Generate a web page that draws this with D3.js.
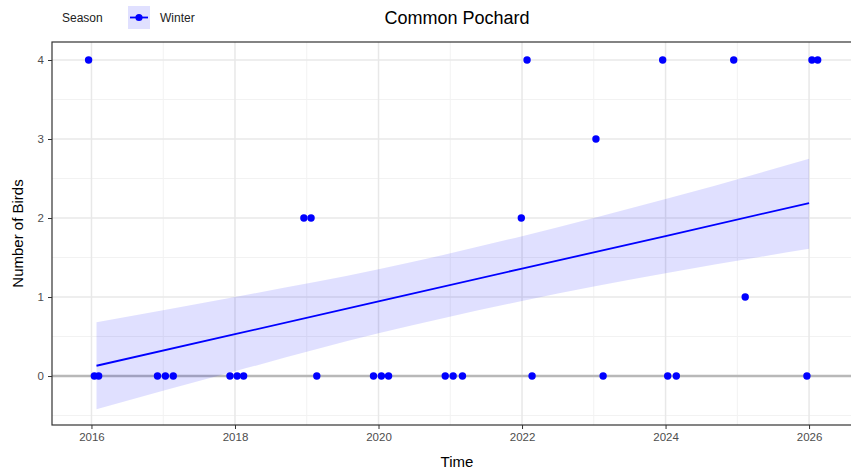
<!DOCTYPE html>
<html>
<head>
<meta charset="utf-8">
<script src="https://cdn.jsdelivr.net/npm/d3@7"></script>
<style>
  body { margin: 0; background: #fff; }
  svg { font-family: 'Liberation Sans', Arial, sans-serif; }
</style>
</head>
<body>
<div class="chart"></div>
<script>
// Parameters
const width = 851;
const height = 473;
const margin = { top: 42, right: -4, bottom: 48, left: 52 };

// observations (decimal year, count)
const years  = [2015.96, 2016.04, 2016.10, 2016.92, 2017.03, 2017.14, 2017.93, 2018.03, 2018.12,
                2018.96, 2019.06, 2019.14, 2019.93, 2020.04, 2020.14, 2020.93, 2021.04, 2021.17,
                2021.99, 2022.07, 2022.14, 2023.03, 2023.13, 2023.96, 2024.03, 2024.15, 2024.95,
                2025.11, 2025.97, 2026.04, 2026.12];
const counts = [4, 0, 0, 0, 0, 0, 0, 0, 0,
                2, 2, 0, 0, 0, 0, 0, 0, 0,
                2, 4, 0, 3, 0, 4, 0, 0, 4,
                1, 0, 4, 4];

// fitted trend and confidence band
const smoothX     = [2016.07, 2018, 2020, 2022, 2024, 2026.0];
const smoothFit   = [0.13, 0.53, 0.945, 1.36, 1.77, 2.19];
const smoothLower = [-0.42, 0.06, 0.54, 0.95, 1.30, 1.61];
const smoothUpper = [0.68, 1.00, 1.35, 1.77, 2.24, 2.75];

const xTicks = [2016, 2018, 2020, 2022, 2024, 2026];
const xMinor = [2017, 2019, 2021, 2023, 2025];
const yTicks = [0, 1, 2, 3, 4];
const yMinor = [-0.5, 0.5, 1.5, 2.5, 3.5];

const seriesName = 'Winter';

function drawGraph() {
    const svg = d3.select('.chart')
        .append('svg')
        .attr('width', width)
        .attr('height', height);

    const scaleX = d3.scaleLinear()
        .domain([2015.45, 2026.64])
        .range([margin.left, width - margin.right]);

    const scaleY = d3.scaleLinear()
        .domain([-0.62, 4.228])
        .range([height - margin.bottom, margin.top]);

    const x0 = margin.left, x1 = width - margin.right;
    const y0 = margin.top, y1 = height - margin.bottom;

    // grid
    const grid = svg.append('g');
    grid.selectAll('.ymin').data(yMinor).join('line')
        .attr('x1', x0).attr('x2', x1)
        .attr('y1', d => scaleY(d)).attr('y2', d => scaleY(d))
        .attr('stroke', '#f2f2f2').attr('stroke-width', 1);
    grid.selectAll('.xmin').data(xMinor).join('line')
        .attr('y1', y0).attr('y2', y1)
        .attr('x1', d => scaleX(d)).attr('x2', d => scaleX(d))
        .attr('stroke', '#f2f2f2').attr('stroke-width', 1);
    grid.selectAll('.ymaj').data(yTicks).join('line')
        .attr('x1', x0).attr('x2', x1)
        .attr('y1', d => scaleY(d)).attr('y2', d => scaleY(d))
        .attr('stroke', '#e8e8e8').attr('stroke-width', 1.5);
    grid.selectAll('.xmaj').data(xTicks).join('line')
        .attr('y1', y0).attr('y2', y1)
        .attr('x1', d => scaleX(d)).attr('x2', d => scaleX(d))
        .attr('stroke', '#e8e8e8').attr('stroke-width', 1.5);

    // zero line
    svg.append('line')
        .attr('x1', x0).attr('x2', x1)
        .attr('y1', scaleY(0)).attr('y2', scaleY(0))
        .attr('stroke', '#b8b8b8').attr('stroke-width', 2.6);

    // confidence band
    const band = smoothX.map((x, i) => ({ x, lo: smoothLower[i], hi: smoothUpper[i], fit: smoothFit[i] }));
    svg.append('path')
        .datum(band)
        .attr('fill', 'rgb(0,0,255)')
        .attr('fill-opacity', 0.12)
        .attr('d', d3.area()
            .curve(d3.curveMonotoneX)
            .x(d => scaleX(d.x))
            .y0(d => scaleY(d.lo))
            .y1(d => scaleY(d.hi)));

    // points
    svg.append('g')
        .selectAll('circle')
        .data(years.map((y, i) => ({ t: y, v: counts[i] })))
        .join('circle')
        .attr('cx', d => scaleX(d.t))
        .attr('cy', d => scaleY(d.v))
        .attr('r', 3.7)
        .attr('fill', '#0000ff');

    // trend line
    svg.append('path')
        .datum(band)
        .attr('fill', 'none')
        .attr('stroke', '#0000ff')
        .attr('stroke-width', 1.8)
        .attr('d', d3.line()
            .x(d => scaleX(d.x))
            .y(d => scaleY(d.fit)));

    // panel border
    svg.append('rect')
        .attr('x', x0).attr('y', y0)
        .attr('width', x1 - x0).attr('height', y1 - y0)
        .attr('fill', 'none')
        .attr('stroke', '#333').attr('stroke-width', 1.2);

    // axes
    const axX = svg.append('g')
        .attr('transform', `translate(0, ${y1})`)
        .call(d3.axisBottom(scaleX).tickValues(xTicks).tickFormat(d3.format('d')).tickSize(4).tickPadding(4));
    const axY = svg.append('g')
        .attr('transform', `translate(${x0}, 0)`)
        .call(d3.axisLeft(scaleY).tickValues(yTicks).tickFormat(d3.format('d')).tickSize(4).tickPadding(4));
    [axX, axY].forEach(a => {
        a.select('.domain').remove();
        a.selectAll('line').attr('stroke', '#333');
        a.selectAll('text').attr('fill', '#4d4d4d').style('font-size', '11.5px');
    });

    // titles
    svg.append('text')
        .attr('x', (x0 + 862) / 2).attr('y', 467)
        .attr('text-anchor', 'middle')
        .style('font-size', '15px')
        .text('Time');
    svg.append('text')
        .attr('transform', `translate(23, ${(y0 + y1) / 2}) rotate(-90)`)
        .attr('text-anchor', 'middle')
        .style('font-size', '15px')
        .text('Number of Birds');
    svg.append('text')
        .attr('x', 457).attr('y', 24)
        .attr('text-anchor', 'middle')
        .style('font-size', '18px')
        .text('Common Pochard');

    // legend
    const leg = svg.append('g');
    leg.append('text')
        .attr('x', 62).attr('y', 22)
        .style('font-size', '12px').attr('fill', '#222')
        .text('Season');
    leg.append('rect')
        .attr('x', 128).attr('y', 6).attr('width', 22).attr('height', 23)
        .attr('fill', 'rgb(0,0,255)').attr('fill-opacity', 0.12);
    leg.append('line')
        .attr('x1', 130).attr('x2', 148).attr('y1', 17.5).attr('y2', 17.5)
        .attr('stroke', '#0000ff').attr('stroke-width', 1.8);
    leg.append('circle')
        .attr('cx', 139).attr('cy', 17.5).attr('r', 3.6).attr('fill', '#0000ff');
    leg.append('text')
        .attr('x', 160).attr('y', 22)
        .style('font-size', '12px').attr('fill', '#222')
        .text(seriesName);
}

drawGraph();
</script>
</body>
</html>
